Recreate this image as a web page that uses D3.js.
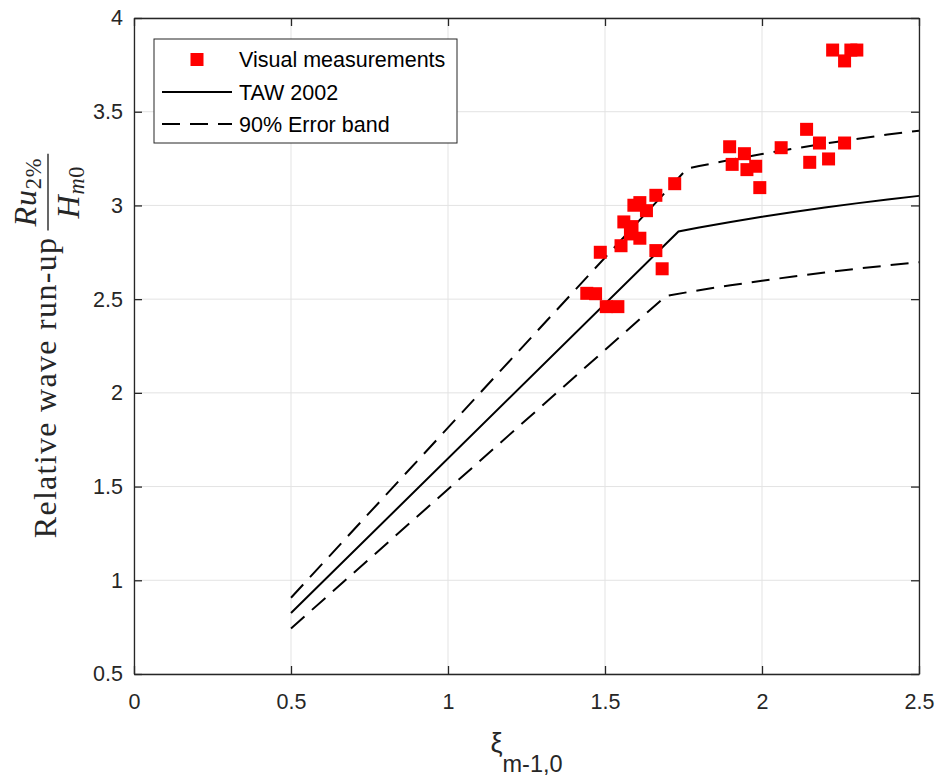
<!DOCTYPE html>
<html>
<head>
<meta charset="utf-8">
<script src="https://cdn.jsdelivr.net/npm/d3@7"></script>
<style>
  html, body { margin: 0; padding: 0; background: #ffffff; }
  svg { display: block; }
</style>
</head>
<body>
<script>
// ---------------- data ----------------
const xTickValues = [0, 0.5, 1, 1.5, 2, 2.5];
const xTickLabels = ["0", "0.5", "1", "1.5", "2", "2.5"];
const yTickValues = [0.5, 1, 1.5, 2, 2.5, 3, 3.5, 4];
const yTickLabels = ["0.5", "1", "1.5", "2", "2.5", "3", "3.5", "4"];

// Visual measurements (xi_{m-1,0}, Ru2%/Hm0)
const measX = [1.442, 1.470, 1.504, 1.541, 1.485, 1.551, 1.560, 1.581, 1.586, 1.611, 1.592, 1.611, 1.632, 1.662, 1.662, 1.682, 1.722,
               1.897, 1.905, 1.944, 1.952, 1.980, 1.993, 2.061, 2.142, 2.152, 2.183, 2.212, 2.263,
               2.225, 2.283, 2.302, 2.263];
const measY = [2.531, 2.529, 2.460, 2.460, 2.750, 2.785, 2.912, 2.848, 2.887, 2.825, 3.001, 3.015, 2.972, 3.054, 2.759, 2.662, 3.116,
               3.313, 3.219, 3.276, 3.191, 3.209, 3.095, 3.308, 3.406, 3.230, 3.333, 3.248, 3.333,
               3.829, 3.829, 3.829, 3.771];

// TAW 2002 curve
const tawX = [0.5, 1.734, 1.8, 1.9, 2.0, 2.1, 2.2, 2.3, 2.4, 2.5];
const tawY = [0.825, 2.861, 2.882, 2.912, 2.939, 2.965, 2.989, 3.011, 3.032, 3.051];
// 90% error band
const upperX = [0.5, 1.762, 1.8, 1.9, 2.0, 2.1, 2.2, 2.3, 2.4, 2.5];
const upperY = [0.907, 3.197, 3.210, 3.244, 3.274, 3.303, 3.330, 3.354, 3.378, 3.399];
const lowerX = [0.5, 1.694, 1.8, 1.9, 2.0, 2.1, 2.2, 2.3, 2.4, 2.5];
const lowerY = [0.743, 2.517, 2.548, 2.574, 2.598, 2.621, 2.642, 2.662, 2.680, 2.697];

const legendLabels = ["Visual measurements", "TAW 2002", "90% Error band"];

// ---------------- drawing ----------------
const W = 940, H = 776;
const svg = d3.select("body").append("svg").attr("width", W).attr("height", H);
const sans = "'Liberation Sans', Arial, Helvetica, sans-serif";
const serif = "'Liberation Serif', 'Times New Roman', serif";
const axisColor = "#262626";

const x = d3.scaleLinear().domain([0, 2.5]).range([134, 919]);
const y = d3.scaleLinear().domain([0.5, 4]).range([674, 18]);

// plot background
svg.append("rect").attr("x", 134).attr("y", 18).attr("width", 785).attr("height", 656).attr("fill", "#ffffff");

// grid
const grid = svg.append("g").attr("stroke", "#e3e3e3").attr("stroke-width", 1);
grid.selectAll("line.gx").data(xTickValues).join("line")
  .attr("x1", d => x(d)).attr("x2", d => x(d)).attr("y1", y(0.5)).attr("y2", y(4));
grid.selectAll("line.gy").data(yTickValues).join("line")
  .attr("y1", d => y(d)).attr("y2", d => y(d)).attr("x1", x(0)).attr("x2", x(2.5));

// lines
const line = d3.line().x(d => x(d[0])).y(d => y(d[1]));
const zip = (a, b) => a.map((v, i) => [v, b[i]]);
const lines = svg.append("g").attr("fill", "none").attr("stroke", "#000").attr("stroke-width", 2);
lines.append("path").attr("d", line(zip(tawX, tawY)));
lines.append("path").attr("d", line(zip(upperX, upperY))).attr("stroke-dasharray", "18,10");
lines.append("path").attr("d", line(zip(lowerX, lowerY))).attr("stroke-dasharray", "18,10");

// markers
const ms = 13;
svg.append("g").selectAll("rect").data(zip(measX, measY)).join("rect")
  .attr("x", d => x(d[0]) - ms / 2).attr("y", d => y(d[1]) - ms / 2)
  .attr("width", ms).attr("height", ms).attr("fill", "#ff0000");

// axes
const fmtX = d => xTickLabels[xTickValues.indexOf(d)];
const fmtY = d => yTickLabels[yTickValues.indexOf(d)];
const tickFont = 21.5;

function styleAxis(g) {
  g.select(".domain").attr("stroke", axisColor).attr("stroke-width", 1.3);
  g.selectAll(".tick line").attr("stroke", axisColor).attr("stroke-width", 1.3);
  g.selectAll(".tick text").attr("fill", axisColor).attr("font-family", sans).attr("font-size", tickFont);
}
svg.append("g").attr("transform", `translate(0,${y(0.5)})`)
  .call(d3.axisBottom(x).tickValues(xTickValues).tickFormat(fmtX).tickSizeInner(-8).tickSizeOuter(0).tickPadding(20))
  .call(styleAxis);
svg.append("g").attr("transform", `translate(${x(0)},0)`)
  .call(d3.axisLeft(y).tickValues(yTickValues).tickFormat(fmtY).tickSizeInner(-8).tickSizeOuter(0).tickPadding(11))
  .call(styleAxis);
svg.append("g").attr("transform", `translate(0,${y(4)})`)
  .call(d3.axisTop(x).tickValues(xTickValues).tickFormat("").tickSizeInner(-8).tickSizeOuter(0))
  .call(styleAxis);
svg.append("g").attr("transform", `translate(${x(2.5)},0)`)
  .call(d3.axisRight(y).tickValues(yTickValues).tickFormat("").tickSizeInner(-8).tickSizeOuter(0))
  .call(styleAxis);

// legend
const lg = svg.append("g");
lg.append("rect").attr("x", 154).attr("y", 39).attr("width", 303).attr("height", 104)
  .attr("fill", "#ffffff").attr("stroke", axisColor).attr("stroke-width", 1);
const rowY = [59.5, 92, 124];
lg.append("rect").attr("x", 197 - ms / 2).attr("y", rowY[0] - ms / 2).attr("width", ms).attr("height", ms).attr("fill", "#ff0000");
lg.append("line").attr("x1", 162).attr("x2", 232).attr("y1", rowY[1]).attr("y2", rowY[1]).attr("stroke", "#000").attr("stroke-width", 2);
lg.append("line").attr("x1", 162).attr("x2", 232).attr("y1", rowY[2]).attr("y2", rowY[2]).attr("stroke", "#000").attr("stroke-width", 2).attr("stroke-dasharray", "18,10");
lg.selectAll("text").data(legendLabels).join("text")
  .attr("x", 239).attr("y", (d, i) => rowY[i] + 7.7)
  .attr("font-family", sans).attr("font-size", 21.5).attr("fill", "#000").text(d => d);

// x label
const xl = svg.append("text").attr("x", (x(0) + x(2.5)) / 2).attr("y", 752)
  .attr("text-anchor", "middle").attr("fill", axisColor).attr("font-family", sans);
xl.append("tspan").attr("font-size", 27).text("ξ");
xl.append("tspan").attr("font-size", 23.5).attr("dy", 20).text("m-1,0");

// y label (rotated), text + fraction
const fs = 32;
const gy = svg.append("g").attr("transform", `translate(56,${(y(0.5) + y(4)) / 2}) rotate(-90)`);
const lab = gy.append("text").attr("font-family", serif).attr("font-size", fs)
  .attr("letter-spacing", 1.3).attr("fill", axisColor).text("Relative wave run-up");
const w1 = lab.node().getComputedTextLength();
const num = gy.append("text").attr("font-family", serif).attr("font-size", fs).attr("fill", axisColor).attr("letter-spacing", 0.8);
num.append("tspan").attr("font-style", "italic").text("Ru");
num.append("tspan").attr("font-size", fs * 0.7).attr("dy", 5).text("2%");
const den = gy.append("text").attr("font-family", serif).attr("font-size", fs).attr("fill", axisColor).attr("letter-spacing", 0.8);
den.append("tspan").attr("font-style", "italic").text("H");
den.append("tspan").attr("font-style", "italic").attr("font-size", fs * 0.7).attr("dy", 5).text("m");
den.append("tspan").attr("font-size", fs * 0.7).text("0");
const wn = num.node().getComputedTextLength();
const wd = den.node().getComputedTextLength();
const barLen = Math.max(wn, wd) + 8;
const gap = fs * 0.2;
const total = w1 + gap + barLen;
const start = -total / 2;
lab.attr("x", start).attr("y", 0);
const b0 = start + w1 + gap;
gy.append("line").attr("x1", b0).attr("x2", b0 + barLen).attr("y1", -8).attr("y2", -8)
  .attr("stroke", axisColor).attr("stroke-width", 1.4);
num.attr("x", b0 + (barLen - wn) / 2).attr("y", -20);
den.attr("x", b0 + (barLen - wd) / 2).attr("y", 23);
</script>
</body>
</html>
